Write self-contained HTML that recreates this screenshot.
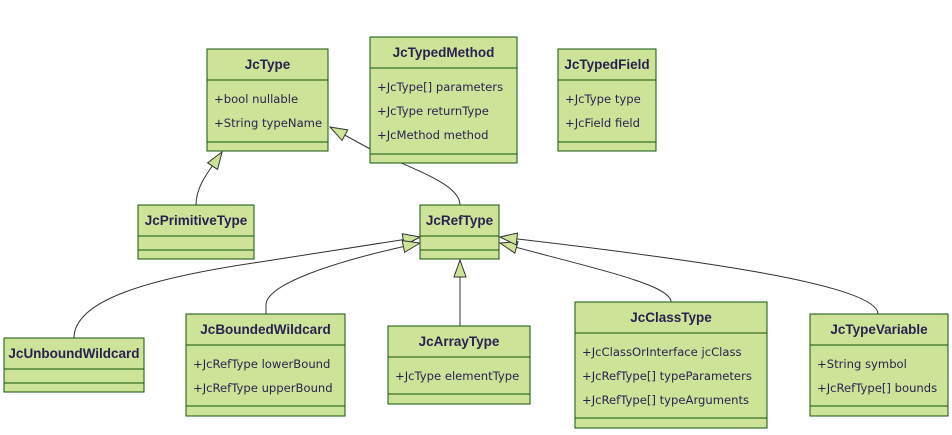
<!DOCTYPE html>
<html><head><meta charset="utf-8"><style>
body{margin:0;background:#fff;}
svg{display:block;}
text{font-family:"DejaVu Sans","Liberation Sans",sans-serif;fill:#2a1f4f;font-size:11.6px;}
.t{font-family:"Liberation Sans",sans-serif;font-weight:bold;text-anchor:middle;font-size:13.5px;}
rect{fill:#cde498;stroke:#13540c;stroke-width:1;}
.l{stroke:#13540c;stroke-width:1;}
.e{fill:none;stroke:#333;stroke-width:1;}
</style></head><body>
<svg width="952" height="435" viewBox="0 0 952 435" xmlns="http://www.w3.org/2000/svg">
<defs>
<marker id="tri" viewBox="0 0 20 14" refX="1" refY="7" markerWidth="20" markerHeight="14" markerUnits="userSpaceOnUse" orient="auto">
<path d="M1,7 L18,1 L18,13 Z" fill="#cde498" stroke="#333" stroke-width="1"/>
</marker>
</defs>
<path class="e" d="M222,152 C210,170 196,185 196,205" marker-start="url(#tri)"/>
<path class="e" d="M330,127 L372,150 C420,172 460,185 460,205" marker-start="url(#tri)"/>
<path class="e" d="M420,237 L260,262 C150,278 74,300 74,338" marker-start="url(#tri)"/>
<path class="e" d="M420,243 C330,262 266,285 266,305 L266,314" marker-start="url(#tri)"/>
<path class="e" d="M460,260 L460,326" marker-start="url(#tri)"/>
<path class="e" d="M500,243 C600,270 671,285 671,302" marker-start="url(#tri)"/>
<path class="e" d="M500,237 C700,260 878,285 878,314" marker-start="url(#tri)"/>

<rect x="207" y="49" width="121" height="102"/>
<line class="l" x1="207" y1="80" x2="328" y2="80"/><line class="l" x1="207" y1="142" x2="328" y2="142"/>
<text class="t" x="267.5" y="69">JcType</text>
<text x="214" y="103">+bool nullable</text><text x="214" y="127">+String typeName</text>

<rect x="370" y="37" width="147" height="126"/>
<line class="l" x1="370" y1="68" x2="517" y2="68"/><line class="l" x1="370" y1="154" x2="517" y2="154"/>
<text class="t" x="443.5" y="57">JcTypedMethod</text>
<text x="377" y="91">+JcType[] parameters</text><text x="377" y="115">+JcType returnType</text><text x="377" y="139">+JcMethod method</text>

<rect x="558" y="49" width="98" height="102"/>
<line class="l" x1="558" y1="80" x2="656" y2="80"/><line class="l" x1="558" y1="142" x2="656" y2="142"/>
<text class="t" x="607" y="69">JcTypedField</text>
<text x="565" y="103">+JcType type</text><text x="565" y="127">+JcField field</text>

<rect x="138" y="205" width="116" height="54"/>
<line class="l" x1="138" y1="236" x2="254" y2="236"/><line class="l" x1="138" y1="250" x2="254" y2="250"/>
<text class="t" x="196" y="225">JcPrimitiveType</text>

<rect x="420" y="205" width="79" height="54"/>
<line class="l" x1="420" y1="236" x2="499" y2="236"/><line class="l" x1="420" y1="250" x2="499" y2="250"/>
<text class="t" x="459.5" y="225">JcRefType</text>

<rect x="4" y="338" width="140" height="54"/>
<line class="l" x1="4" y1="369" x2="144" y2="369"/><line class="l" x1="4" y1="383" x2="144" y2="383"/>
<text class="t" x="74" y="358">JcUnboundWildcard</text>

<rect x="186" y="314" width="159" height="102"/>
<line class="l" x1="186" y1="345" x2="345" y2="345"/><line class="l" x1="186" y1="406" x2="345" y2="406"/>
<text class="t" x="265.5" y="334">JcBoundedWildcard</text>
<text x="193" y="368">+JcRefType lowerBound</text><text x="193" y="392">+JcRefType upperBound</text>

<rect x="388" y="326" width="142" height="78"/>
<line class="l" x1="388" y1="357" x2="530" y2="357"/><line class="l" x1="388" y1="394" x2="530" y2="394"/>
<text class="t" x="459" y="346">JcArrayType</text>
<text x="395" y="380">+JcType elementType</text>

<rect x="575" y="302" width="192" height="126"/>
<line class="l" x1="575" y1="333" x2="767" y2="333"/><line class="l" x1="575" y1="418" x2="767" y2="418"/>
<text class="t" x="671" y="322">JcClassType</text>
<text x="582" y="356">+JcClassOrInterface jcClass</text><text x="582" y="380">+JcRefType[] typeParameters</text><text x="582" y="404">+JcRefType[] typeArguments</text>

<rect x="810" y="314" width="138" height="102"/>
<line class="l" x1="810" y1="345" x2="948" y2="345"/><line class="l" x1="810" y1="406" x2="948" y2="406"/>
<text class="t" x="879" y="334">JcTypeVariable</text>
<text x="817" y="368">+String symbol</text><text x="817" y="392">+JcRefType[] bounds</text>
</svg>
</body></html>
